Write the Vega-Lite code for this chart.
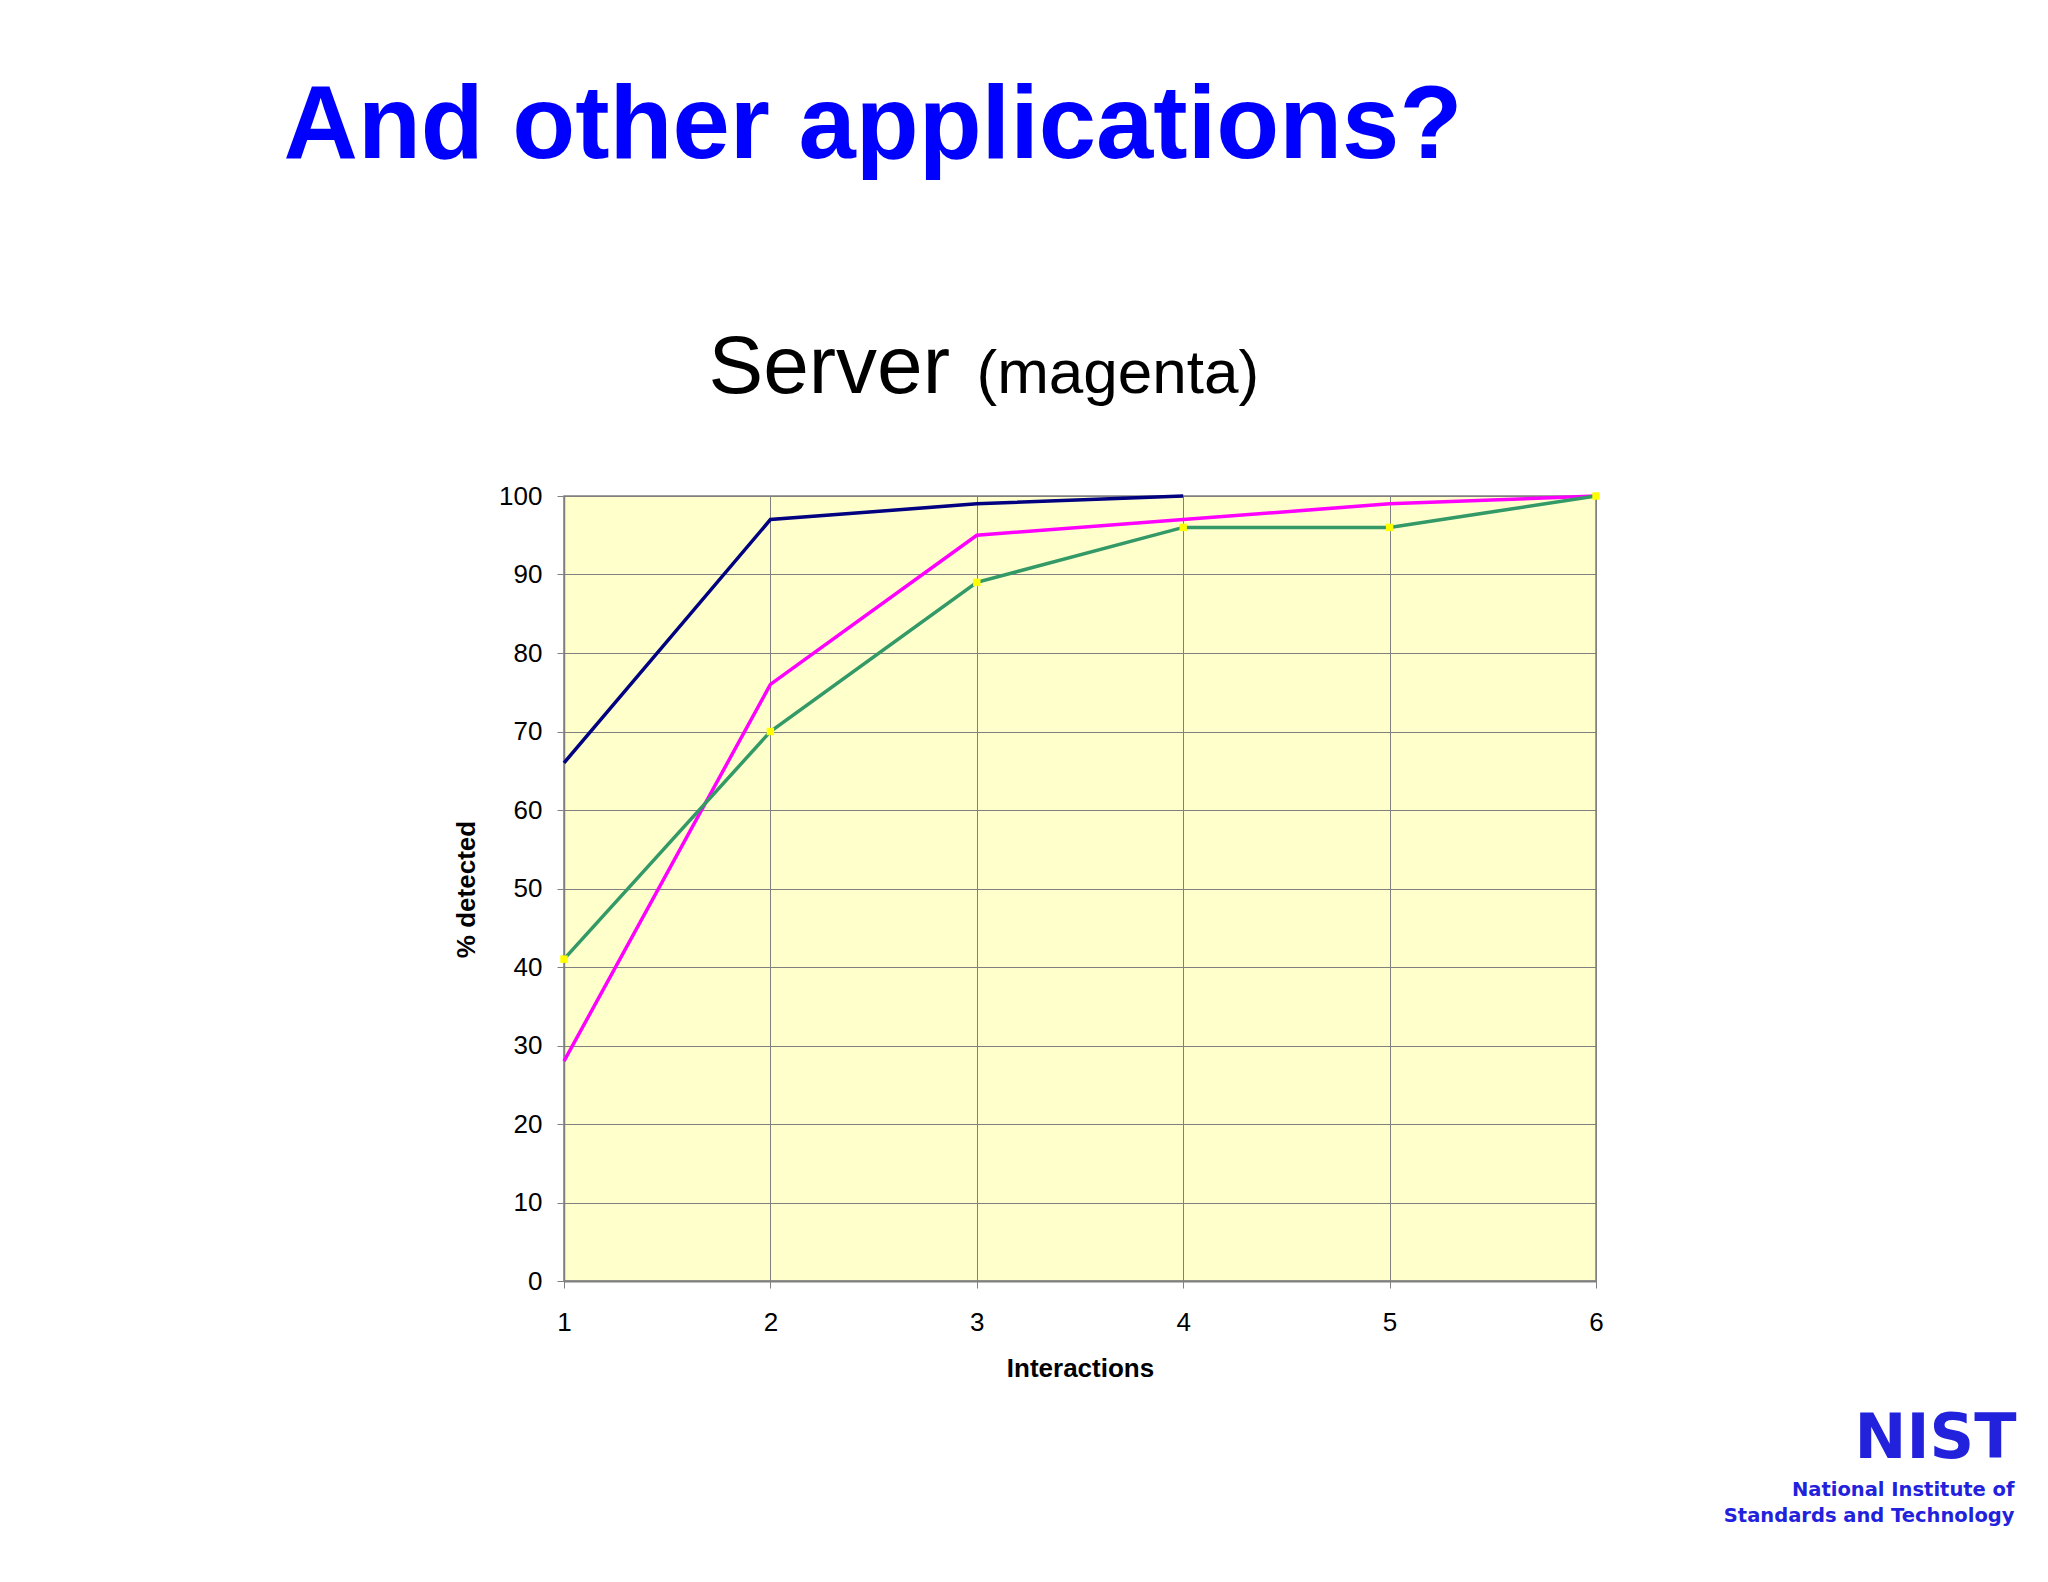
{
  "$schema": "https://vega.github.io/schema/vega-lite/v6.json",
  "autosize": {"type": "none"},
  "padding": {"left": 564, "top": 496, "right": 452, "bottom": 301},
  "width": 1032,
  "height": 785,
  "background": "white",
  "config": {
    "font": "Liberation Sans",
    "view": {"fill": "#FFFFCC", "stroke": "#808080", "strokeWidth": 1.5}
  },
  "data": {
    "values": [
      {"series": "Series 1", "interactions": 1, "detected": 66},
      {"series": "Series 1", "interactions": 2, "detected": 97},
      {"series": "Series 1", "interactions": 3, "detected": 99},
      {"series": "Series 1", "interactions": 4, "detected": 100},
      {"series": "Series 2", "interactions": 1, "detected": 28},
      {"series": "Series 2", "interactions": 2, "detected": 76},
      {"series": "Series 2", "interactions": 3, "detected": 95},
      {"series": "Series 2", "interactions": 4, "detected": 97},
      {"series": "Series 2", "interactions": 5, "detected": 99},
      {"series": "Series 2", "interactions": 6, "detected": 100},
      {"series": "Series 3", "interactions": 1, "detected": 41},
      {"series": "Series 3", "interactions": 2, "detected": 70},
      {"series": "Series 3", "interactions": 3, "detected": 89},
      {"series": "Series 3", "interactions": 4, "detected": 96},
      {"series": "Series 3", "interactions": 5, "detected": 96},
      {"series": "Series 3", "interactions": 6, "detected": 100}
    ]
  },
  "layer": [
    {
      "mark": {"type": "line", "strokeWidth": 3.5},
      "encoding": {
        "x": {
          "field": "interactions", "type": "quantitative",
          "scale": {"domain": [1, 6], "nice": false, "zero": false},
          "axis": {
            "orient": "bottom", "values": [1, 2, 3, 4, 5, 6], "format": "d",
            "title": "Interactions", "labelFlush": false, "labelBound": false, "labelOverlap": false,
            "grid": true, "gridColor": "#808080", "gridWidth": 1, "gridOpacity": 1,
            "domainColor": "#808080", "domainWidth": 2,
            "tickColor": "#808080", "tickSize": 7, "tickWidth": 1,
            "labelFontSize": 26, "labelPadding": 21, "labelColor": "black", "labelFont": "Liberation Sans",
            "titleFontSize": 26, "titleFontWeight": "bold", "titleColor": "black", "titleFont": "Liberation Sans",
            "titleY": 95, "titleBaseline": "alphabetic"
          }
        },
        "y": {
          "field": "detected", "type": "quantitative",
          "scale": {"domain": [0, 100], "nice": false},
          "axis": {
            "orient": "left", "values": [0, 10, 20, 30, 40, 50, 60, 70, 80, 90, 100],
            "title": "% detected", "labelFlush": false, "labelBound": false, "labelOverlap": false,
            "grid": true, "gridColor": "#808080", "gridWidth": 1, "gridOpacity": 1,
            "domainColor": "#808080", "domainWidth": 1.5,
            "tickColor": "#808080", "tickSize": 7, "tickWidth": 1,
            "labelFontSize": 26, "labelPadding": 15, "labelColor": "black", "labelFont": "Liberation Sans",
            "titleFontSize": 26, "titleFontWeight": "bold", "titleColor": "black", "titleFont": "Liberation Sans",
            "titleAngle": -90, "titleX": -98, "titleY": 393, "titleAlign": "center", "titleBaseline": "middle"
          }
        },
        "color": {
          "field": "series", "type": "nominal",
          "scale": {"domain": ["Series 1", "Series 2", "Series 3"], "range": ["#000080", "#FF00FF", "#339966"]},
          "legend": null
        }
      }
    },
    {
      "transform": [{"filter": "datum.series === 'Series 3'"}],
      "mark": {"type": "square", "size": 55, "filled": true, "color": "#FFFF00", "opacity": 1},
      "encoding": {
        "x": {
          "field": "interactions", "type": "quantitative",
          "axis": {
            "orient": "top", "title": "And other applications?",
            "domain": false, "ticks": false, "labels": false, "grid": false,
            "titleX": -281, "titleY": -339, "titleAlign": "left", "titleBaseline": "alphabetic", "titleAngle": 0,
            "titleFontSize": 103, "titleFontWeight": "bold", "titleColor": "#0000FF", "titleFont": "Liberation Sans"
          }
        },
        "y": {
          "field": "detected", "type": "quantitative",
          "axis": {
            "orient": "right", "title": "NIST",
            "domain": false, "ticks": false, "labels": false, "grid": false,
            "titleX": 420, "titleY": 961, "titleAlign": "right", "titleBaseline": "alphabetic", "titleAngle": 0,
            "titleFontSize": 62, "titleFontWeight": "bold", "titleColor": "#2222DD", "titleFont": "DejaVu Sans"
          }
        }
      }
    },
    {
      "mark": {"type": "point", "opacity": 0},
      "encoding": {
        "x": {
          "field": "interactions", "type": "quantitative",
          "axis": {
            "orient": "top", "title": "Server",
            "domain": false, "ticks": false, "labels": false, "grid": false,
            "titleX": 144, "titleY": -104, "titleAlign": "left", "titleBaseline": "alphabetic", "titleAngle": 0,
            "titleFontSize": 82, "titleFontWeight": "normal", "titleColor": "black", "titleFont": "Liberation Sans"
          }
        },
        "y": {
          "field": "detected", "type": "quantitative",
          "axis": {
            "orient": "right", "title": "(magenta)",
            "domain": false, "ticks": false, "labels": false, "grid": false,
            "titleX": -620, "titleY": -104, "titleAlign": "left", "titleBaseline": "alphabetic", "titleAngle": 0,
            "titleFontSize": 62, "titleFontWeight": "normal", "titleColor": "black", "titleFont": "Liberation Sans"
          }
        }
      }
    },
    {
      "mark": {"type": "point", "opacity": 0},
      "encoding": {
        "x": {
          "field": "interactions", "type": "quantitative",
          "axis": {
            "orient": "bottom", "title": ["National Institute of", "Standards and Technology"],
            "domain": false, "ticks": false, "labels": false, "grid": false,
            "titleX": 1450, "titleY": 214, "titleAlign": "right", "titleBaseline": "alphabetic", "titleAngle": 0,
            "titleLineHeight": 26,
            "titleFontSize": 19.5, "titleFontWeight": "bold", "titleColor": "#2222DD", "titleFont": "DejaVu Sans"
          }
        },
        "y": {"field": "detected", "type": "quantitative", "axis": null}
      }
    }
  ],
  "resolve": {"axis": {"x": "independent", "y": "independent"}}
}
